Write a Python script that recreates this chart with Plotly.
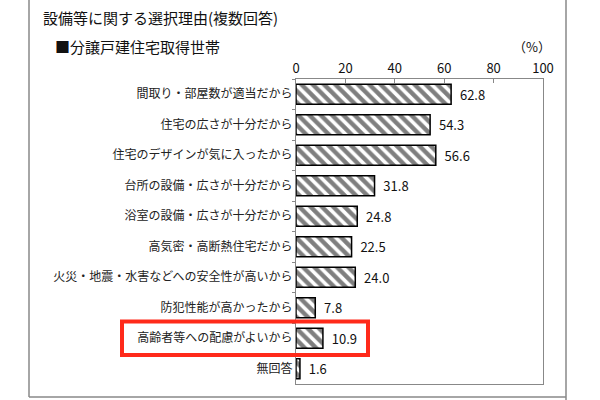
import plotly.graph_objects as go

# 設備等に関する選択理由 - 分譲戸建住宅取得世帯 (%)
reasons = [
    "間取り・部屋数が適当だから",
    "住宅の広さが十分だから",
    "住宅のデザインが気に入ったから",
    "台所の設備・広さが十分だから",
    "浴室の設備・広さが十分だから",
    "高気密・高断熱住宅だから",
    "火災・地震・水害などへの安全性が高いから",
    "防犯性能が高かったから",
    "高齢者等への配慮がよいから",
    "無回答",
]
shares = [62.8, 54.3, 56.6, 31.8, 24.8, 22.5, 24.0, 7.8, 10.9, 1.6]
x_ticks = [0, 20, 40, 60, 80, 100]

W, H = 600, 400
L, R, T, B = 296, 543, 79, 384  # plot area in pixels


def px_x(p):
    return (p - L) / (R - L)


def px_y(p):
    return (B - p) / (B - T)


font = "Noto Sans CJK JP"

fig = go.Figure()
fig.add_trace(go.Bar(
    x=shares,
    y=reasons,
    orientation="h",
    width=0.66,
    marker=dict(
        color="white",
        line=dict(color="black", width=1.5),
        pattern=dict(shape="\\", fgcolor="black", bgcolor="white", size=8, solidity=0.55),
    ),
    text=[f"  {v:.1f}" for v in shares],
    textposition="outside",
    textfont=dict(size=13, color="#111", family=font),
    cliponaxis=False,
))

fig.update_xaxes(
    side="top", range=[0, 100], tickvals=x_ticks,
    ticks="inside", ticklen=4, tickcolor="#888",
    showline=True, linecolor="#888", linewidth=1, mirror=True,
    showgrid=False, zeroline=False, automargin=False,
    tickfont=dict(size=13, color="#111", family=font),
)
fig.update_yaxes(
    autorange="reversed", ticks="outside", tickson="boundaries",
    ticklen=3, tickcolor="#888",
    showline=True, linecolor="#888", linewidth=1, mirror=True,
    showgrid=False, automargin=False,
    tickfont=dict(size=12, color="#222", family=font),
)

# frame lines of the original figure
fig.add_shape(type="line", xref="paper", yref="paper",
              x0=px_x(29), x1=px_x(29), y0=px_y(0), y1=px_y(397),
              line=dict(color="#888", width=1.5))
fig.add_shape(type="line", xref="paper", yref="paper",
              x0=px_x(29), x1=px_x(566), y0=px_y(397), y1=px_y(397),
              line=dict(color="#888", width=1.5))
fig.add_shape(type="line", xref="paper", yref="paper",
              x0=px_x(566), x1=px_x(566), y0=px_y(0), y1=px_y(400),
              line=dict(color="#888", width=1.5))

# red highlight box
fig.add_shape(type="rect", xref="paper", yref="y",
              x0=px_x(122), x1=px_x(368), y0=7.45, y1=8.55,
              line=dict(color="#ff2a1a", width=4))

fig.add_annotation(text="設備等に関する選択理由(複数回答)", xref="paper", yref="paper",
                   x=px_x(41), y=px_y(17), xanchor="left", yanchor="middle",
                   showarrow=False, font=dict(size=15, color="#111", family=font))
fig.add_annotation(text="■分譲戸建住宅取得世帯", xref="paper", yref="paper",
                   x=px_x(53), y=px_y(47), xanchor="left", yanchor="middle",
                   showarrow=False, font=dict(size=15, color="#111", family=font))
fig.add_annotation(text="（%）", xref="paper", yref="paper",
                   x=px_x(553), y=px_y(47), xanchor="right", yanchor="middle",
                   showarrow=False, font=dict(size=13, color="#111", family=font))

fig.update_layout(
    width=W, height=H,
    margin=dict(l=L, r=W - R, t=T, b=H - B, autoexpand=False),
    paper_bgcolor="white", plot_bgcolor="white",
    showlegend=False,
)

# the page body has a default 8px margin; drop it so the chart sits at 0,0
fig.write_html("out.html", config={"displayModeBar": False},
               post_script="document.body.style.margin='0';")
